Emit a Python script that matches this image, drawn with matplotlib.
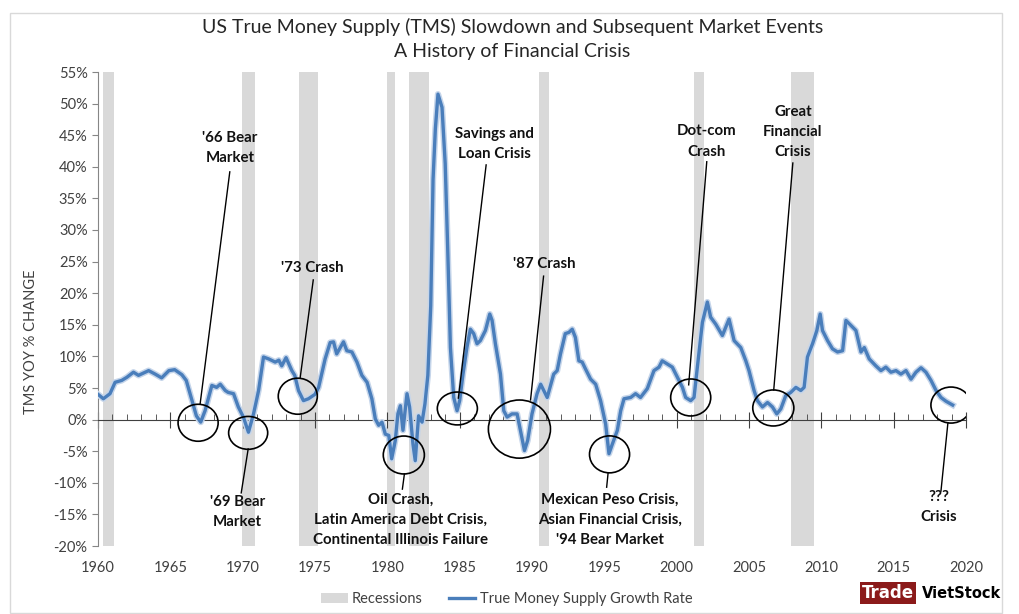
import matplotlib
matplotlib.use("Agg")
import matplotlib.pyplot as plt
from matplotlib.patches import Ellipse, Patch, Rectangle
from matplotlib.lines import Line2D
import matplotlib.patheffects as pe

plt.rcParams['font.family'] = ['Lato', 'DejaVu Sans']

# TMS year-over-year growth
years = [1960.0, 1960.37, 1960.83, 1961.18, 1961.64, 1962.0, 1962.45, 1962.8, 1963.5, 1963.95,
         1964.4, 1964.9, 1965.3, 1965.8, 1966.1, 1966.5, 1966.8, 1967.1, 1967.4, 1967.87,
         1968.2, 1968.45, 1968.8, 1969.0, 1969.37, 1969.7, 1970.05, 1970.4, 1970.75, 1971.1,
         1971.44, 1971.8, 1972.25, 1972.5, 1972.7, 1973.0, 1973.4, 1973.6, 1973.86, 1974.2,
         1974.55, 1975.0, 1975.25, 1975.7, 1976.05, 1976.28, 1976.5, 1976.75, 1976.97, 1977.2,
         1977.55, 1977.9, 1978.24, 1978.6, 1978.93, 1979.17, 1979.4, 1979.63, 1979.86, 1980.1,
         1980.3, 1980.55, 1980.73, 1980.9, 1981.08, 1981.36, 1981.54, 1981.77, 1981.93, 1982.16,
         1982.4, 1982.6, 1982.8, 1983.0, 1983.16, 1983.32, 1983.5, 1983.78, 1984.0, 1984.17,
         1984.36, 1984.59, 1984.82, 1985.0, 1985.23, 1985.5, 1985.74, 1985.97, 1986.2, 1986.43,
         1986.78, 1987.08, 1987.24, 1987.47, 1987.82, 1988.05, 1988.28, 1988.62, 1988.97, 1989.2,
         1989.48, 1989.7, 1990.0, 1990.35, 1990.6, 1991.05, 1991.5, 1991.74, 1991.97, 1992.3,
         1992.55, 1992.78, 1993.0, 1993.24, 1993.47, 1993.7, 1994.05, 1994.4, 1994.74, 1995.09,
         1995.32, 1995.55, 1995.9, 1996.13, 1996.36, 1996.82, 1997.16, 1997.5, 1997.97, 1998.43,
         1998.78, 1999.0, 1999.35, 1999.7, 2000.05, 2000.4, 2000.62, 2000.97, 2001.2, 2001.43,
         2001.78, 2002.12, 2002.35, 2002.7, 2003.16, 2003.62, 2003.97, 2004.43, 2004.78, 2005.0,
         2005.35, 2005.58, 2005.93, 2006.28, 2006.62, 2006.92, 2007.2, 2007.54, 2007.89, 2008.24,
         2008.58, 2008.81, 2009.04, 2009.39, 2009.69, 2009.92, 2010.08, 2010.43, 2010.77, 2011.12,
         2011.47, 2011.7, 2012.04, 2012.39, 2012.74, 2012.97, 2013.31, 2013.77, 2014.12, 2014.46,
         2014.81, 2015.16, 2015.5, 2015.85, 2016.2, 2016.54, 2016.89, 2017.23, 2017.58, 2017.93,
         2018.27, 2018.62, 2019.08]
tms_growth = [4.0, 3.3, 4.1, 5.9, 6.2, 6.7, 7.5, 7.0, 7.75, 7.2,
              6.6, 7.75, 7.9, 7.1, 6.2, 3.0, 0.6, -0.4, 1.4, 5.4,
              5.1, 5.6, 4.6, 4.3, 4.1, 2.0, 0.4, -2.0, 0.9, 4.6,
              9.9, 9.6, 9.1, 9.4, 8.5, 9.8, 7.75, 7.0, 4.6, 3.0,
              3.3, 4.0, 5.1, 9.6, 12.2, 12.3, 10.4, 11.4, 12.3, 10.9,
              10.7, 9.1, 7.0, 5.9, 3.3, 0.1, -0.9, -0.4, -2.3, -2.5,
              -6.2, -3.3, 0.9, 2.2, -1.7, 4.1, 2.0, -3.85, -6.5, 0.6,
              -0.4, 2.5, 7.0, 18.0, 38.0, 46.0, 51.5, 49.4, 40.5, 27.3,
              11.4, 3.5, 1.4, 3.0, 7.2, 11.4, 14.3, 13.6, 12.0, 12.5,
              14.1, 16.7, 15.7, 12.0, 7.2, 1.4, 0.4, 0.9, 0.9, -1.7,
              -4.9, -3.3, 0.9, 4.1, 5.6, 3.5, 7.2, 7.75, 10.4, 13.6,
              13.8, 14.3, 13.0, 9.3, 9.1, 8.0, 6.4, 5.6, 3.0, -0.7,
              -5.4, -3.9, -1.7, 1.4, 3.3, 3.5, 4.1, 3.5, 4.9, 7.75,
              8.3, 9.3, 8.8, 8.3, 6.7, 5.1, 3.5, 3.0, 3.5, 8.3,
              15.4, 18.6, 16.2, 15.1, 13.3, 15.9, 12.5, 11.4, 9.3, 7.75,
              4.6, 3.0, 2.0, 2.7, 2.0, 0.9, 1.7, 3.8, 4.3, 5.1,
              4.6, 5.1, 9.9, 12.0, 14.1, 16.7, 14.1, 12.5, 11.2, 10.7,
              10.9, 15.7, 14.9, 14.1, 10.7, 11.4, 9.6, 8.5, 7.75, 8.3,
              7.5, 7.75, 7.2, 7.75, 6.4, 7.5, 8.2, 7.5, 6.2, 4.6,
              3.5, 2.9, 2.3]

recession_start = [1960.33, 1969.92, 1973.87, 1980.0, 1981.5, 1990.5, 2001.2, 2007.92]
recession_end = [1961.12, 1970.87, 1975.2, 1980.5, 1982.87, 1991.2, 2001.87, 2009.5]

# label, text (x, y), leader from, leader to, circle (x, y, w, h)
events = [
    ("'66 Bear\nMarket", (1969.13, 43.0), (1969.11, 39.2), (1967.06, 2.5), (1966.92, -0.5, 2.77, 5.85)),
    ("'69 Bear\nMarket", (1969.62, -14.6), (1970.38, -4.65), (1969.9, -11.6), (1970.38, -2.1, 2.7, 5.2)),
    ("'73 Crash", (1974.81, 24.0), (1974.88, 22.1), (1973.98, 6.7), (1973.81, 3.7, 2.7, 5.7)),
    ("Oil Crash,\nLatin America Debt Crisis,\nContinental Illinois Failure", (1980.9, -15.9),
     (1981.18, -8.6), (1981.04, -11.0), (1981.14, -5.6, 2.84, 6.0)),
    ("Savings and\nLoan Crisis", (1987.4, 43.6), (1986.83, 40.3), (1984.91, 3.4), (1984.84, 1.76, 2.77, 5.2)),
    ("'87 Crash", (1990.87, 24.6), (1990.8, 22.7), (1989.9, 3.1), (1989.13, -1.5, 4.29, 9.2)),
    ("Mexican Peso Crisis,\nAsian Financial Crisis,\n'94 Bear Market", (1995.36, -15.9),
     (1995.26, -8.45), (1995.16, -10.7), (1995.36, -5.5, 2.77, 5.85)),
    ("Dot-com\nCrash", (2002.08, 44.0), (2002.08, 40.8), (2000.83, 5.5), (2000.97, 3.5, 2.77, 5.85)),
    ("Great\nFinancial\nCrisis", (2008.03, 45.5), (2008.03, 40.6), (2006.71, 4.7), (2006.68, 1.84, 2.84, 5.7)),
    ("???\nCrisis", (2018.13, -13.9), (2018.75, -0.5), (2018.27, -11.3), (2018.96, 2.3, 2.77, 5.7)),
]

fig = plt.figure(figsize=(10.19, 6.14), dpi=100)
ax = fig.add_axes([98 / 1019, 1 - 546 / 614, (966 - 98) / 1019, (546 - 72) / 614])

fig.patches.append(Rectangle((10 / 1019, 1 / 614), 992 / 1019, 600 / 614, transform=fig.transFigure,
                             fill=False, edgecolor='#d9d9d9', linewidth=1))

for s, e in zip(recession_start, recession_end):
    ax.axvspan(s, e, color='#d9d9d9', linewidth=0, zorder=0)

ax.plot(years, tms_growth, color='#4a7ebb', linewidth=2.4, zorder=3,
        path_effects=[pe.Stroke(linewidth=4.5, foreground='#c5d5ea'), pe.Normal()])

for text, txy, l0, l1, circ in events:
    ax.text(txy[0], txy[1], text, ha='center', va='center', fontsize=10.8, fontweight='bold',
            linespacing=1.55, color='#111111', zorder=5)
    ax.plot([l0[0], l1[0]], [l0[1], l1[1]], color='black', linewidth=1, zorder=4)
    ax.add_patch(Ellipse((circ[0], circ[1]), circ[2], circ[3], fill=False, edgecolor='black',
                         linewidth=1.2, zorder=4))

ax.set_xlim(1960, 2020)
ax.set_ylim(-20, 55)
ax.set_yticks(range(-20, 60, 5))
ax.set_yticklabels([f"{v}%" for v in range(-20, 60, 5)])
ax.set_xticks(range(1960, 2021, 5))
ax.set_xticks(range(1960, 2021, 1), minor=True)

ax.spines['top'].set_visible(False)
ax.spines['right'].set_visible(False)
ax.spines['bottom'].set_position(('data', 0))
ax.spines['bottom'].set_color('#404040')
ax.spines['left'].set_color('#868686')
ax.tick_params(axis='y', direction='out', length=4, color='#868686', labelsize=10.5, labelcolor='#404040')
ax.tick_params(axis='x', which='major', direction='inout', length=11, color='#404040',
               labelsize=10.5, labelcolor='#404040', pad=96)
ax.tick_params(axis='x', which='minor', direction='in', length=4, color='#404040')

ax.set_ylabel('TMS YOY % CHANGE', fontsize=10.5, color='#404040')
ax.yaxis.set_label_coords(-0.069, 0.43)

fig.text(0.503, 1 - 27 / 614, 'US True Money Supply (TMS) Slowdown and Subsequent Market Events',
         ha='center', va='center', fontsize=14, color='#262626')
fig.text(0.503, 1 - 52 / 614, 'A History of Financial Crisis', ha='center', va='center',
         fontsize=14, color='#262626')

handles = [Patch(facecolor='#d9d9d9', edgecolor='none'),
           Line2D([0], [0], color='#4a7ebb', linewidth=2.4)]
fig.legend(handles, ['Recessions', 'True Money Supply Growth Rate'], loc='center',
           bbox_to_anchor=(507 / 1019, 1 - 599 / 614), ncol=2, frameon=False, fontsize=10.5,
           handlelength=1.8, handletextpad=0.3, columnspacing=1.8, labelcolor='#404040')

# watermark
fig.text(888 / 1019, 1 - 593 / 614, 'Trade', ha='center', va='center', fontsize=12,
         fontweight='bold', family='DejaVu Sans', color='white',
         bbox=dict(boxstyle='square,pad=0.1', facecolor='#8b1a1a', edgecolor='none'))
fig.text(962 / 1019, 1 - 593 / 614, 'VietStock', ha='center', va='center', fontsize=10.5,
         fontweight='bold', family='DejaVu Sans', color='black')

fig.savefig('out.png', dpi=100)
